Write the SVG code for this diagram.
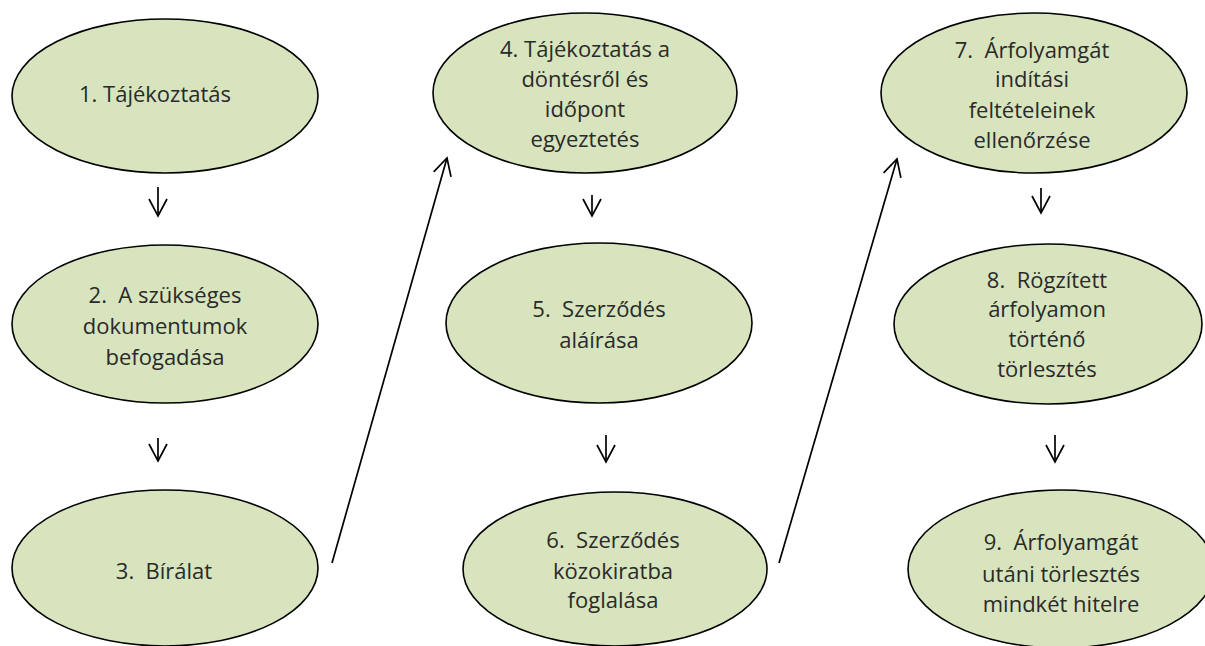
<svg xmlns="http://www.w3.org/2000/svg" width="1205" height="646" viewBox="0 0 1205 646">
<style>
.node ellipse{fill:#d7e4bd;stroke:#000;stroke-width:1.6}
.node text{font-family:"Open Sans","Liberation Sans",Arial,sans-serif;font-size:22px;fill:#2a2a2a;text-anchor:middle;white-space:pre}
.conn line{stroke:#000;stroke-width:1.7;fill:none;marker-end:url(#arr)}
</style>
<defs>
<marker id="arr" viewBox="-22 -12 24 24" refX="0" refY="0" markerWidth="24" markerHeight="24" markerUnits="userSpaceOnUse" orient="auto">
<path d="M-17,-9 L0,0 L-17,9" fill="none" stroke="#000" stroke-width="1.7" stroke-linejoin="miter"/>
</marker>
</defs>
<rect width="1205" height="646" fill="#fff"/>
<g id="n1" class="node"><ellipse cx="165" cy="96" rx="153" ry="77"/><text xml:space="preserve" x="155" y="102">1. Tájékoztatás</text></g>
<g id="n2" class="node"><ellipse cx="165" cy="324" rx="153" ry="79"/><text xml:space="preserve"><tspan x="165" y="303">2.  A szükséges</tspan><tspan x="165" y="334">dokumentumok</tspan><tspan x="165" y="365">befogadása</tspan></text></g>
<g id="n3" class="node"><ellipse cx="165" cy="568" rx="153" ry="78"/><text xml:space="preserve" x="164" y="579">3.  Bírálat</text></g>
<g id="n4" class="node"><ellipse cx="585" cy="93" rx="152" ry="80"/><text xml:space="preserve"><tspan x="585" y="57">4. Tájékoztatás a</tspan><tspan x="585" y="87">döntésről és</tspan><tspan x="585" y="117">időpont</tspan><tspan x="585" y="147">egyeztetés</tspan></text></g>
<g id="n5" class="node"><ellipse cx="599" cy="323" rx="153" ry="80"/><text xml:space="preserve"><tspan x="599" y="317">5.  Szerződés</tspan><tspan x="599" y="348">aláírása</tspan></text></g>
<g id="n6" class="node"><ellipse cx="615" cy="569" rx="152" ry="77"/><text xml:space="preserve"><tspan x="613" y="548">6.  Szerződés</tspan><tspan x="613" y="579">közokiratba</tspan><tspan x="613" y="608">foglalása</tspan></text></g>
<g id="n7" class="node"><ellipse cx="1034" cy="93" rx="153" ry="80"/><text xml:space="preserve"><tspan x="1032" y="58">7.  Árfolyamgát</tspan><tspan x="1032" y="87">indítási</tspan><tspan x="1032" y="118">feltételeinek</tspan><tspan x="1032" y="148">ellenőrzése</tspan></text></g>
<g id="n8" class="node"><ellipse cx="1048" cy="324" rx="154" ry="80"/><text xml:space="preserve"><tspan x="1047" y="288">8.  Rögzített</tspan><tspan x="1047" y="317">árfolyamon</tspan><tspan x="1047" y="347">történő</tspan><tspan x="1047" y="377">törlesztés</tspan></text></g>
<g id="n9" class="node"><ellipse cx="1061" cy="569" rx="153" ry="79"/><text xml:space="preserve"><tspan x="1061" y="550">9.  Árfolyamgát</tspan><tspan x="1061" y="582">utáni törlesztés</tspan><tspan x="1061" y="612">mindkét hitelre</tspan></text></g>
<g id="connectors" class="conn">
<line x1="158" y1="187" x2="158" y2="216"/>
<line x1="158" y1="438" x2="158" y2="461"/>
<line x1="332" y1="563" x2="447" y2="158"/>
<line x1="592" y1="195" x2="592" y2="216"/>
<line x1="606" y1="435" x2="606" y2="462"/>
<line x1="779" y1="563" x2="897" y2="159"/>
<line x1="1041" y1="188" x2="1041" y2="213"/>
<line x1="1055" y1="435" x2="1055" y2="462"/>
</g>
</svg>
